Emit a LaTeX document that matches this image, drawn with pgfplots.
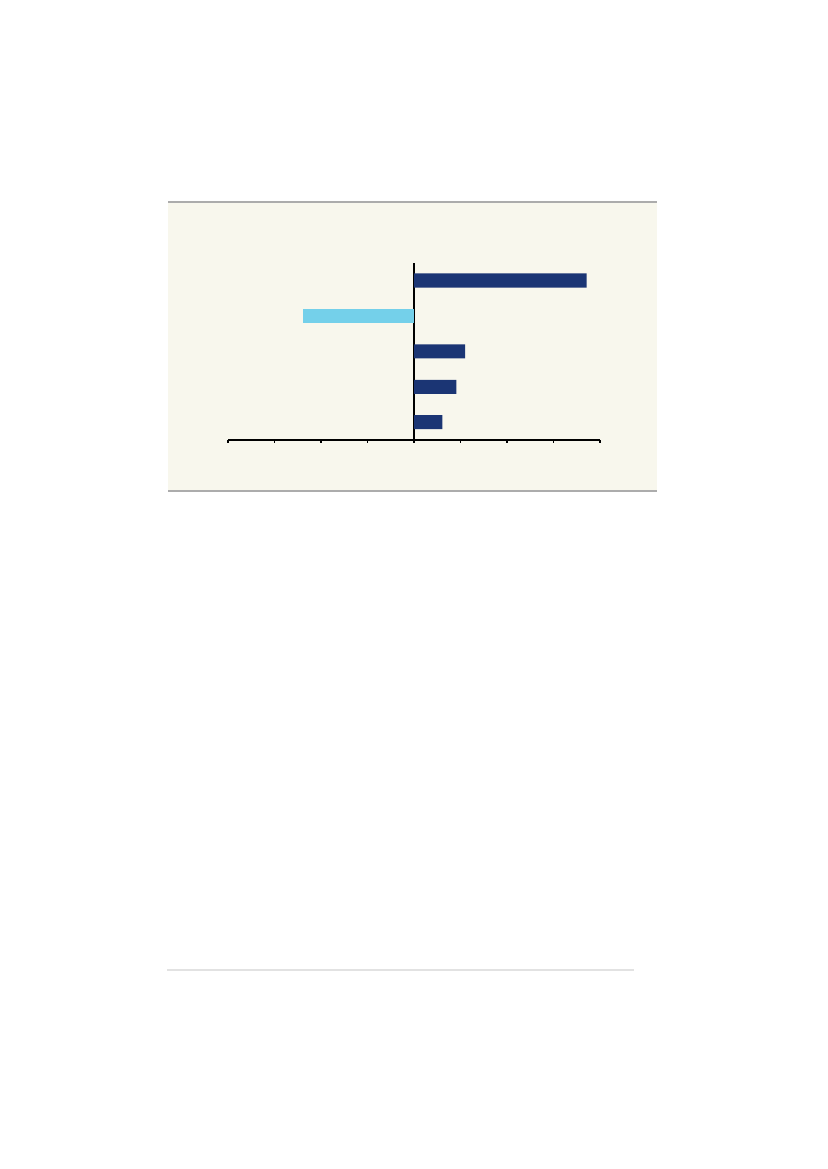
\documentclass[border=0pt]{standalone}
\usepackage{pgfplots}
\pgfplotsset{compat=1.18}
\definecolor{navy}{RGB}{27,53,116}
\definecolor{skyb}{RGB}{116,208,234}
\definecolor{cream}{RGB}{248,247,237}
\definecolor{rulegray}{RGB}{172,172,172}
\definecolor{footgray}{RGB}{226,226,226}
\begin{document}
\begin{tikzpicture}[x=0.254mm,y=0.254mm]
% page and chart panel (pixel units, y measured from the bottom)
\fill[white] (0,0) rectangle (827,1169);
\fill[cream] (168,678) rectangle (657,967);
\draw[rulegray,line width=0.5mm] (168,967)--(657,967);
\draw[rulegray,line width=0.5mm] (168,678)--(657,678);
\draw[footgray,line width=0.4mm] (167,199)--(634,199);
\begin{axis}[at={(57.91mm,185.17mm)}, anchor=south west, scale only axis,
  width=94.5mm, height=45.0mm,
  xmin=-4, xmax=4, ymin=-0.5, ymax=4.5,
  axis x line=bottom, axis y line=center,
  axis line style={-,black,line width=0.35mm},
  xtick={-4,...,4}, xticklabels={}, ytick=\empty,
  tick align=outside, major tick length=0.7mm,
  tick style={black,line width=0.3mm},
  xbar, bar width=3.56mm, bar shift=0pt, clip=false]
\addplot[fill=navy,draw=none] coordinates {(3.71,4) (1.10,2) (0.91,1) (0.61,0)};
\addplot[fill=skyb,draw=none] coordinates {(-2.39,3)};
\end{axis}
\end{tikzpicture}
\end{document}
